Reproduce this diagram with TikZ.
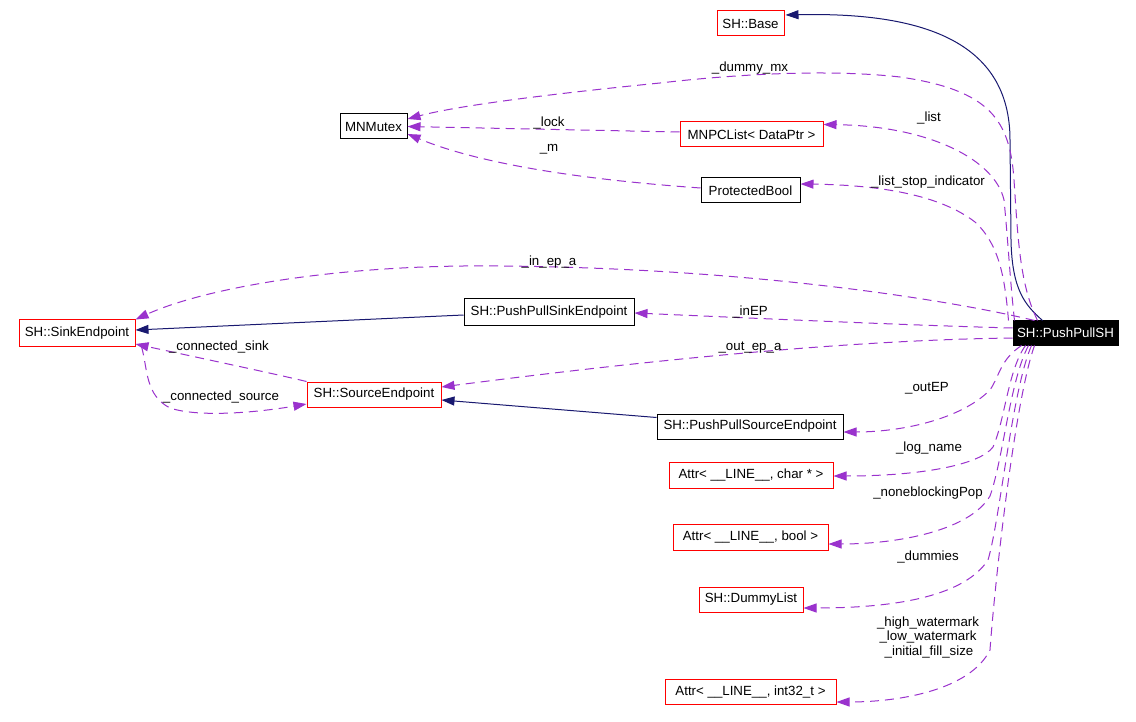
\documentclass[tikz,border=0pt]{standalone}
\usepackage{fontspec}
\setmainfont{Liberation Sans}
\usetikzlibrary{arrows.meta}
\definecolor{depc}{HTML}{9A32CD}
\definecolor{inhc}{HTML}{191970}
\newcommand\lblfont{\fontsize{13.3}{14.5}\selectfont}
\begin{document}
\begin{tikzpicture}[x=1pt,y=-1pt,
  box/.style={draw, line width=1pt, inner sep=0pt, font=\lblfont, text=black, minimum height=25pt},
  redbox/.style={box, draw=red},
  blackbox/.style={box, draw=black},
  dep/.style={draw=depc, line width=1pt, dash pattern=on 9pt off 6pt, -{Triangle[length=13pt,width=9pt]}},
  inh/.style={draw=inhc, line width=1pt, -{Triangle[length=13pt,width=9pt]}},
  lab/.style={font=\lblfont, inner sep=0pt, anchor=base}]
\useasboundingbox[fill=white] (0,0) rectangle (1136,722);

% nodes
\node[redbox, minimum width=67pt] (base) at (750.5,23.5) {SH::Base};
\node[blackbox, minimum width=67pt] (mutex) at (373.5,126.5) {MNMutex};
\node[redbox, minimum width=143pt] (list) at (751.5,134.5) {MNPCList< DataPtr >};
\node[blackbox, minimum width=99pt] (pb) at (750.5,190.5) {ProtectedBool};
\node[redbox, minimum width=116pt, minimum height=26pt] (sink) at (77,333) {SH::SinkEndpoint};
\node[blackbox, minimum width=170pt, minimum height=26pt] (pps) at (549,312) {SH::PushPullSinkEndpoint};
\node[box, draw=black, fill=black, text=white, minimum width=105pt, minimum height=24pt] (ppsh) at (1065.5,333) {SH::PushPullSH};
\node[redbox, minimum width=134pt] (se) at (374,394.5) {SH::SourceEndpoint};
\node[blackbox, minimum width=186pt] (ppso) at (750,426.5) {SH::PushPullSourceEndpoint};
\node[redbox, minimum width=164pt, minimum height=26pt] (ac) at (751,475) {Attr< \_\_LINE\_\_, char * >};
\node[redbox, minimum width=155pt, minimum height=26pt] (ab) at (750.5,537) {Attr< \_\_LINE\_\_, bool >};
\node[redbox, minimum width=104pt] (dl) at (751,599.5) {SH::DummyList};
\node[redbox, minimum width=171pt] (ai) at (750.5,691.5) {Attr< \_\_LINE\_\_, int32\_t >};

% inheritance
\draw[inh] ([xshift=30pt]ppsh.north west) .. controls (1025,305) and (1012,290) .. (1011,240)
  -- (1010,140) .. controls (1010,40) and (920,12) .. ([xshift=1pt,yshift=8.5pt]base.east);
\draw[inh] ([yshift=-3pt]pps.west) -- ([yshift=3pt]sink.east);
\draw[inh] ([yshift=9pt]ppso.west) -- ([yshift=-5.5pt]se.east);

% usage (top bundle)
\draw[dep] ([xshift=25pt]ppsh.north west) .. controls (1020,285) and (1018,240) .. (1014,180)
  .. controls (1010,120) and (990,90) .. (900,77)
  .. controls (820,68) and (720,76) .. (660,83)
  .. controls (560,93) and (460,105) .. ([yshift=7.5pt]mutex.east);
\draw[dep] ([xshift=2pt]ppsh.north west) .. controls (1010,280) and (1008,240) .. (1004,200)
  .. controls (995,160) and (930,126) .. ([yshift=10pt]list.east);
\draw[dep] ([xshift=-4pt]ppsh.north west) .. controls (1005,280) and (1000,245) .. (975,222)
  .. controls (940,195) and (880,185) .. ([yshift=6.5pt]pb.east);
\draw[dep] ([xshift=22pt]ppsh.north west) .. controls (950,300) and (750,268) .. (500,266)
  .. controls (330,264) and (200,290) .. (sink.north east);

% usage (left side)
\draw[dep] ([yshift=5pt]ppsh.west) .. controls (900,325) and (750,318) .. ([yshift=-1pt]pps.east);
\draw[dep] ([yshift=-5pt]ppsh.west) .. controls (850,340) and (650,360) .. ([yshift=7.5pt]se.east);

% usage (bottom bundle)
\draw[dep] ([xshift=9pt]ppsh.south west) .. controls (1000,360) and (1000,375) .. (990,390)
  .. controls (960,420) and (900,432) .. ([yshift=-5.5pt]ppso.east);
\draw[dep] ([xshift=13pt]ppsh.south west) .. controls (1008,370) and (1005,420) .. (993,447)
  .. controls (980,465) and (920,476) .. ([yshift=-1pt]ac.east);
\draw[dep] ([xshift=16pt]ppsh.south west) .. controls (1010,380) and (1003,460) .. (990,496)
  .. controls (970,530) and (900,544) .. ([yshift=-7pt]ab.east);
\draw[dep] ([xshift=19pt]ppsh.south west) .. controls (1012,390) and (1000,520) .. (988,560)
  .. controls (965,595) and (900,608) .. ([yshift=-8.5pt]dl.east);
\draw[dep] ([xshift=22pt]ppsh.south west) .. controls (1015,400) and (995,580) .. (990,650)
  .. controls (970,690) and (900,702) .. ([yshift=-10.5pt]ai.east);

% other usage
\draw[dep] ([yshift=2.5pt]list.west) -- (mutex.east);
\draw[dep] ([yshift=2.5pt]pb.west) .. controls (560,178) and (470,160) .. ([yshift=-7.5pt]mutex.east);
\draw[dep] (se.north west) .. controls (280,375) and (200,358) .. ([yshift=-11pt]sink.east);
\draw[dep] ([xshift=6pt]sink.south east) .. controls (148,370) and (145,395) .. (170,408)
  .. controls (200,418) and (260,412) .. ([yshift=-9.5pt]se.west);

% labels
\node[lab] (l1) at (750,72) {\_dummy\_mx};
\node[lab] (l2) at (929,122) {\_list};
\node[lab] (l3) at (549,127) {\_lock};
\node[lab] (l4) at (549,151.5) {\_m};
\node[lab] (l5) at (928,186) {\_list\_stop\_indicator};
\node[lab] (l6) at (549,266) {\_in\_ep\_a};
\node[lab] (l7) at (750,316) {\_inEP};
\node[lab] (l8) at (219,350) {\_connected\_sink};
\node[lab] (l9) at (750,350.5) {\_out\_ep\_a};
\node[lab] (l10) at (927,391) {\_outEP};
\node[lab] (l11) at (221,400) {\_connected\_source};
\node[lab] (l12) at (929,451) {\_log\_name};
\node[lab] (l13) at (928,496) {\_noneblockingPop};
\node[lab] (l14) at (928,560) {\_dummies};
\node[lab] (l15) at (928,626) {\_high\_watermark};
\node[lab] (l16) at (928,640.5) {\_low\_watermark};
\node[lab] (l17) at (929,655) {\_initial\_fill\_size};
\end{tikzpicture}
\end{document}
